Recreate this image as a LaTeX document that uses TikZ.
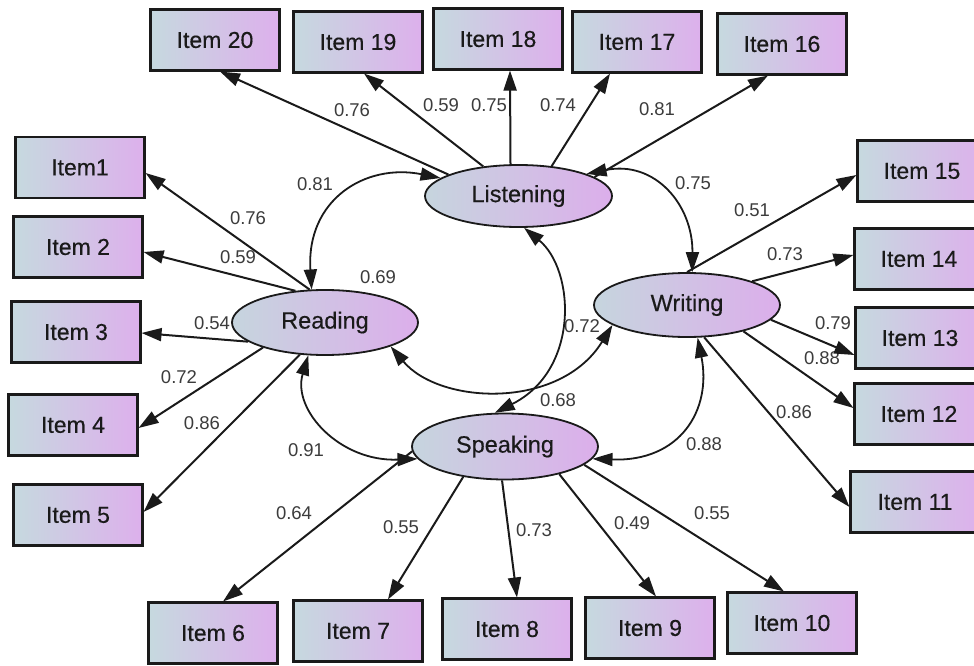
\documentclass[tikz,border=0pt]{standalone}
\usepackage{fontspec}
\setmainfont{Liberation Sans}
\newfontfamily\boxfont[FakeBold=0.4]{Liberation Sans}
\usetikzlibrary{arrows.meta,shapes.geometric}
\definecolor{gL}{HTML}{C6D9DF}
\definecolor{gR}{HTML}{DDB0EC}
\definecolor{eL}{HTML}{C6D5DE}
\definecolor{eR}{HTML}{DCAEEB}
\definecolor{ink}{HTML}{1A1A1A}
\begin{document}
\begin{tikzpicture}[x=1pt,y=-1pt,
 item/.style={draw=ink, line width=2.1pt, left color=gL, right color=gR, minimum width=129pt, minimum height=61pt, inner sep=0pt, font=\boxfont\fontsize{23}{26}\selectfont, text=ink},
 latent/.style={ellipse, draw=ink, line width=1.8pt, left color=eL, right color=eR, minimum width=186pt, minimum height=64pt, inner sep=0pt, font=\boxfont\fontsize{23.5}{26}\selectfont, text=ink},
 coef/.style={font=\fontsize{18.5}{20}\selectfont, text=ink!85, inner sep=0pt},
 ar/.style={-{Triangle[length=20pt,width=13pt]}, line width=2pt, draw=ink},
 cov/.style={{Triangle[length=20pt,width=13pt]}-{Triangle[length=20pt,width=13pt]}, line width=1.8pt, draw=ink},
]
\path[fill=white,use as bounding box] (0,0) rectangle (974,666);

% coefficient labels
\node[coef] (t1) at (352,110) {0.76};
\node[coef] (t2) at (441,105) {0.59};
\node[coef] (t3) at (489,105) {0.75};
\node[coef] (t4) at (558,105) {0.74};
\node[coef] (t5) at (657,109) {0.81};
\node[coef] (t6) at (315,184) {0.81};
\node[coef] (t7) at (693,183) {0.75};
\node[coef] (t8) at (248,218) {0.76};
\node[coef] (t9) at (238,257) {0.59};
\node[coef] (t10) at (378,277) {0.69};
\node[coef] (t11) at (212,323) {0.54};
\node[coef] (t12) at (179,377) {0.72};
\node[coef] (t13) at (202,423) {0.86};
\node[coef] (t14) at (582,326) {0.72};
\node[coef] (t15) at (558,400) {0.68};
\node[coef] (t16) at (306,450) {0.91};
\node[coef] (t17) at (294,513) {0.64};
\node[coef] (t18) at (401,527) {0.55};
\node[coef] (t19) at (534,530) {0.73};
\node[coef] (t20) at (632,523) {0.49};
\node[coef] (t21) at (712,513) {0.55};
\node[coef] (t22) at (752,210) {0.51};
\node[coef] (t23) at (785,254) {0.73};
\node[coef] (t24) at (833,323) {0.79};
\node[coef] (t25) at (822,358) {0.88};
\node[coef] (t26) at (794,412) {0.86};
\node[coef] (t27) at (704,444) {0.88};

% latent variables
\node[latent, minimum width=187pt, minimum height=62pt] (L) at (518.5,196) {Listening};
\node[latent, minimum height=65pt] (R) at (325,322.5) {Reading};
\node[latent] (W) at (687,305) {Writing};
\node[latent, minimum height=66pt] (S) at (505,446.5) {Speaking};

% observed items
\node[item] (i20) at (215,40) {Item 20};
\node[item] (i19) at (358,42) {Item 19};
\node[item] (i18) at (498,39) {Item 18};
\node[item] (i17) at (637,42) {Item 17};
\node[item] (i16) at (782,44) {Item 16};
\node[item] (i1) at (80,167.5) {Item1};
\node[item] (i2) at (78,247) {Item 2};
\node[item] (i3) at (76,332) {Item 3};
\node[item] (i4) at (73,425) {Item 4};
\node[item] (i5) at (78,515) {Item 5};
\node[item] (i15) at (922,171) {Item 15};
\node[item] (i14) at (919,259) {Item 14};
\node[item] (i13) at (920,338) {Item 13};
\node[item] (i12) at (919,414) {Item 12};
\node[item] (i11) at (915,502) {Item 11};
\node[item] (i6) at (213,633) {Item 6};
\node[item] (i7) at (358,631) {Item 7};
\node[item] (i8) at (507,629) {Item 8};
\node[item] (i9) at (650,628) {Item 9};
\node[item] (i10) at (792,623) {Item 10};

% loadings: Listening
\draw[ar] (L.163) -- ([xshift=5pt]i20.south);
\draw[ar] (L.140) -- ([xshift=6pt]i19.south);
\draw[ar] ([xshift=-8pt]L.north) -- ([xshift=12pt]i18.south);
\draw[ar] (L.42) -- ([xshift=-27pt]i17.south);
\draw[ar] (L.14) -- ([xshift=-14pt]i16.south);
% Reading
\draw[ar] (R.115) -- ([yshift=-5.5pt]i1.east);
\draw[ar] (R.133) -- ([yshift=-5pt]i2.east);
\draw[ar] (R.194) -- ([yshift=-1pt]i3.east);
\draw[ar] (R.202) -- ([yshift=-3pt]i4.east);
\draw[ar] (R.232) -- ([yshift=3pt]i5.east);
% Writing
\draw[ar] (W.90) -- ([yshift=-4pt]i15.west);
\draw[ar] (W.20) -- ([yshift=4pt]i14.west);
\draw[ar] (W.-10) -- ([yshift=-17pt]i13.west);
\draw[ar] (W.-25) -- ([yshift=6pt]i12.west);
\draw[ar] (W.-62) -- ([yshift=-5pt]i11.west);
% Speaking
\draw[ar] (S.183) -- ([xshift=10pt]i6.north);
\draw[ar] (S.216) -- ([xshift=30pt]i7.north);
\draw[ar] (S.265) -- ([xshift=10pt]i8.north);
\draw[ar] (S.-27) -- ([xshift=6pt]i9.north);
\draw[ar] (S.-13) -- ([xshift=-8pt]i10.north);

% correlations
\draw[cov] (L.167) .. controls (365,163) and (306,200) .. (R.112);
\draw[cov] (L.18) .. controls (655,160) and (693,205) .. (W.81);
\draw[cov] (R.-20) .. controls (440,405) and (560,410) .. (W.195);
\draw[cov] (L.-80) .. controls (575,270) and (580,370) .. (S.107);
\draw[cov] (R.243) .. controls (292,410) and (340,462) .. (S.188);
\draw[cov] (W.-72) .. controls (712,410) and (680,462) .. (S.-8);
\end{tikzpicture}
\end{document}
